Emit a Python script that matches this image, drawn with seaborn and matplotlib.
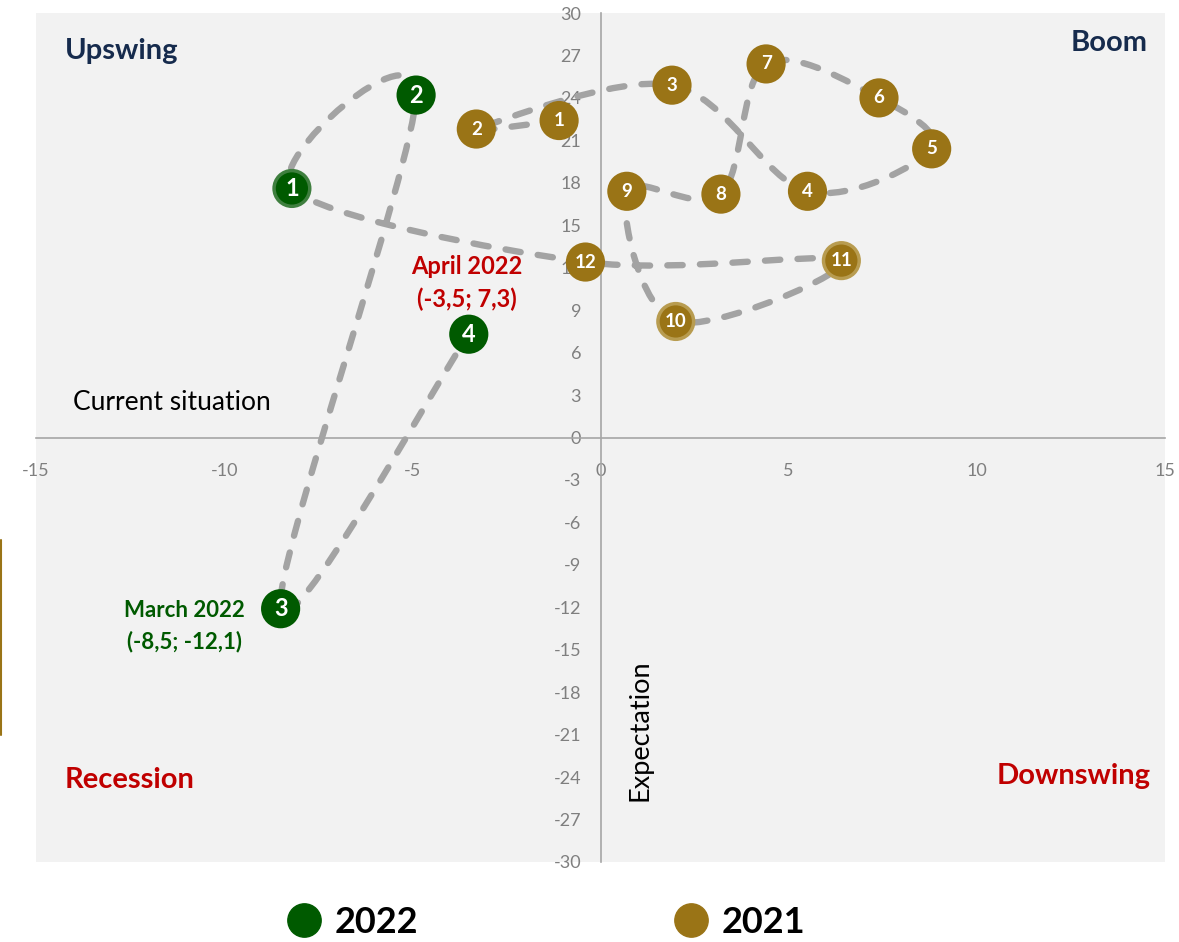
import matplotlib
matplotlib.use('Agg')
import matplotlib.pyplot as plt
import numpy as np
import pandas as pd
import seaborn as sns
from matplotlib.path import Path
from matplotlib.patches import PathPatch
from matplotlib.lines import Line2D

# Werte (Lage, Erwartung)
monate_2021 = ['1', '2', '3', '4', '5', '6', '7', '8', '9', '10', '11', '12']
lage_2021 = [-1.1, -3.3, 1.9, 5.5, 8.8, 7.4, 4.4, 3.2, 0.7, 2.0, 6.4, -0.4]
erwartung_2021 = [22.4, 21.8, 24.9, 17.4, 20.4, 24.0, 26.4, 17.2, 17.4, 8.2, 12.5, 12.4]

monate_2022 = ['1', '2', '3', '4']
lage_2022 = [-8.2, -4.9, -8.5, -3.5]
erwartung_2022 = [17.6, 24.2, -12.1, 7.3]

jahre = ['2022', '2021']
farben = {'2022': '#005a00', '2021': '#9a7416'}

df = pd.DataFrame({
    'lage': lage_2021 + lage_2022,
    'erwartung': erwartung_2021 + erwartung_2022,
    'monat': monate_2021 + monate_2022,
    'jahr': ['2021'] * len(lage_2021) + ['2022'] * len(lage_2022),
})

sns.set_style('white')
plt.rcParams['font.family'] = ['Lato', 'DejaVu Sans']
plt.rcParams['axes.unicode_minus'] = False

fig = plt.figure(figsize=(11.79, 9.42), dpi=100)
ax = fig.add_axes([36 / 1179, 1 - 862 / 942, 1129 / 1179, 849 / 942])
ax.set_facecolor('#f2f2f2')

# geglaettete Linie wie in Excel (Catmull-Rom als Bezier)
pts = df[['lage', 'erwartung']].to_numpy()
n = len(pts)
verts = [pts[0]]
codes = [Path.MOVETO]
for i in range(n - 1):
    p0 = pts[max(i - 1, 0)]
    p1 = pts[i]
    p2 = pts[i + 1]
    p3 = pts[min(i + 2, n - 1)]
    verts += [p1 + (p2 - p0) / 6, p2 - (p3 - p1) / 6, p2]
    codes += [Path.CURVE4] * 3
kurve = PathPatch(Path(verts, codes), facecolor='none', edgecolor='#a3a3a3',
                  lw=4.6, linestyle=(0, (2.4, 2.7)), capstyle='round', zorder=3)
ax.add_patch(kurve)

# Punkte
sns.scatterplot(data=df, x='lage', y='erwartung', hue='jahr', hue_order=jahre,
                palette=farben, s=660, linewidth=2.5, legend=False,
                zorder=4, ax=ax)
rand = ['#3f7f3f' if (j == '2022' and m == '1') else
        ('#b89c50' if (j == '2021' and m in ['10', '11']) else farben[j])
        for j, m in zip(df['jahr'], df['monat'])]
ax.collections[-1].set_edgecolors(rand)

for _, r in df.iterrows():
    gr = 17 if r['jahr'] == '2022' else 13.5
    ax.text(r['lage'], r['erwartung'], r['monat'], color='white', fontsize=gr,
            fontweight='bold', ha='center', va='center', zorder=5)

ax.set_xlim(-15, 15)
ax.set_ylim(-30, 30)
ax.set_xticks(range(-15, 16, 5))
ax.set_yticks(range(-30, 31, 3))
ax.spines['left'].set_position(('data', 0))
ax.spines['bottom'].set_position(('data', 0))
ax.spines['top'].set_visible(False)
ax.spines['right'].set_visible(False)
for s in ['left', 'bottom']:
    ax.spines[s].set_color('#a6a6a6')
    ax.spines[s].set_linewidth(1.2)
ax.tick_params(axis='both', direction='out', length=5, width=1.1, color='#a6a6a6',
               labelcolor='#7f7f7f', labelsize=13)
ax.tick_params(axis='x', pad=13)
ax.tick_params(axis='y', pad=9)
ax.set_xlabel('')
ax.set_ylabel('')

# Quadranten
ax.text(-14.24, 27.3, 'Upswing', color='#162b4d', fontsize=21, fontweight='bold',
        ha='left', va='center')
ax.text(14.54, 27.9, 'Boom', color='#162b4d', fontsize=21, fontweight='bold',
        ha='right', va='center')
ax.text(-14.24, -24.2, 'Recession', color='#c00000', fontsize=21, fontweight='bold',
        ha='left', va='center')
ax.text(14.62, -23.9, 'Downswing', color='#c00000', fontsize=21, fontweight='bold',
        ha='right', va='center')
ax.text(-14.03, 2.5, 'Current situation', color='black', fontsize=19,
        ha='left', va='center')
ax.text(1.04, -20.7, 'Expectation', color='black', fontsize=19.5, rotation=90,
        ha='center', va='center')
ax.text(-3.56, 12.1, 'April 2022', color='#c00000', fontsize=17, fontweight='bold',
        ha='center', va='center', zorder=6)
ax.text(-3.56, 9.8, '(-3,5; 7,3)', color='#c00000', fontsize=17, fontweight='bold',
        ha='center', va='center', zorder=6)
ax.text(-11.05, -12.2, 'March 2022', color='#005a00', fontsize=16, fontweight='bold',
        ha='center', va='center')
ax.text(-11.05, -14.4, '(-8,5; -12,1)', color='#005a00', fontsize=16, fontweight='bold',
        ha='center', va='center')

# Legende unten
handles = [Line2D([], [], marker='o', ls='', markersize=24, markerfacecolor=farben[j],
                  markeredgecolor=farben[j]) for j in jahre]
leg = ax.legend(handles, jahre, loc='center', bbox_to_anchor=(0.4627, 0.021),
                bbox_transform=fig.transFigure, ncol=2, frameon=False,
                handlelength=1, columnspacing=7.05, handletextpad=0.36,
                prop={'size': 26, 'weight': 'bold'})
for t in leg.get_texts():
    t.set_color('black')

# duenne Linie am linken Rand
fig.add_artist(Line2D([0.001, 0.001], [1 - 540 / 942, 1 - 735 / 942],
                      transform=fig.transFigure, color='#9a7416', lw=1.5))

plt.savefig('out.png', dpi=100)
